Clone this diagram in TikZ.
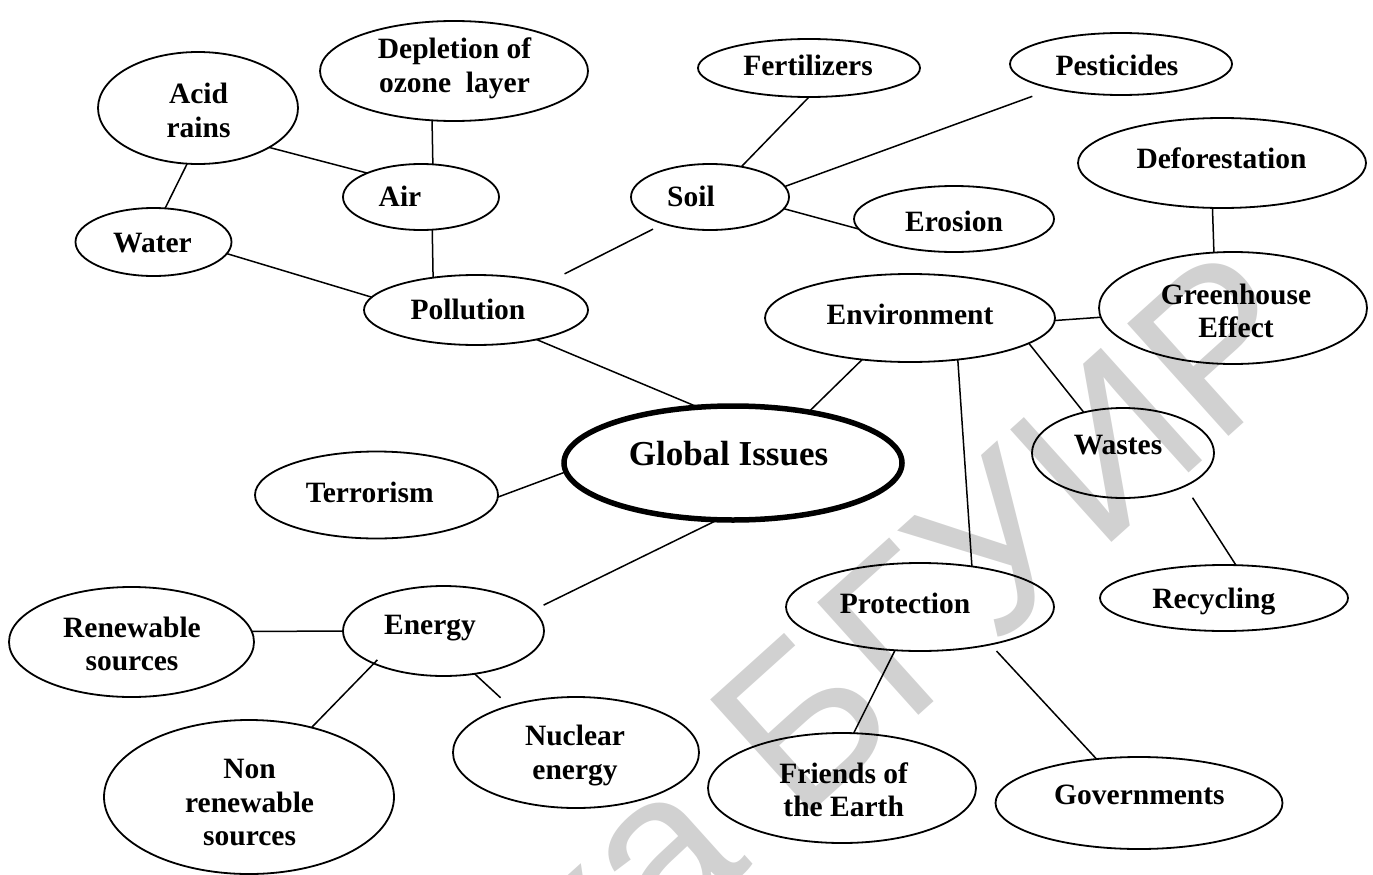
\documentclass[tikz,border=0pt]{standalone}
\usepackage{fontspec}
\setmainfont{Liberation Serif}
\newfontfamily\wmfont{Liberation Sans}
\usetikzlibrary{shapes.geometric}

% an unfilled ellipse and its label: name, centre x, centre y, width, height, label x, label y, label
\newcommand\bubble[8]{%
  \node[bub, minimum width=#4, minimum height=#5] (#1) at (#2,#3) {};
  \node[lbl] (#1-t) at (#6,#7) {#8};}

\begin{document}
\begin{tikzpicture}[x=1pt, y=-1pt,
  bub/.style={draw, ellipse, line width=1.8pt, inner sep=0pt, outer sep=0pt},
  lbl/.style={font=\bfseries\fontsize{29.5}{33.7}\selectfont, align=center,
              inner sep=0pt, text depth=0pt},
  link/.style={line width=1.5pt},
  wm/.style={font=\wmfont\fontsize{220}{220}\selectfont, text=black!18, inner sep=0pt}]

\useasboundingbox (0,0) rectangle (1373,875);

% library stamp in the background
\begin{scope}
  \clip (0,0) rectangle (1373,875);
  \node[wm, rotate=42, anchor=base east] (stamp) at (1325,350) {Библиотека БГУИР};
\end{scope}

% central topic
\node[bub, line width=5.5pt, minimum width=338, minimum height=114] (glob) at (733,463) {};
\node[lbl, font=\bfseries\fontsize{35}{40}\selectfont] (glob-t) at (728.5,453.8) {Global Issues};

% pollution branch
\bubble{dep}{454}{71}{268}{100}{454.5}{65}{Depletion of\\ozone\ \ layer}
\bubble{acid}{198}{108}{200}{112}{198.6}{110}{Acid\\rains}
\bubble{air}{421}{197}{156}{66}{400}{196.7}{Air}
\bubble{water}{153.5}{242}{156}{68}{152.5}{242.5}{Water}
\bubble{poll}{476}{310}{224}{70}{468}{308.8}{Pollution}
\bubble{soil}{710}{197}{158}{66}{691}{196.7}{Soil}
\bubble{fert}{809}{68}{222}{58}{808}{65}{Fertilizers}
\bubble{pest}{1121}{64}{222}{62}{1117}{65}{Pesticides}
\bubble{eros}{954}{219}{200}{66}{954}{220.8}{Erosion}

% environment branch
\bubble{env}{910}{318}{290}{88}{910}{313.8}{Environment}
\bubble{defo}{1222}{163}{288}{90}{1221.5}{158.3}{Deforestation}
\bubble{green}{1233}{308}{268}{112}{1236}{310.8}{Greenhouse\\Effect}
\bubble{wastes}{1123}{453}{182}{90}{1118}{445}{Wastes}
\bubble{recyc}{1224}{598}{248}{66}{1213.8}{598.3}{Recycling}
\bubble{prot}{920}{607}{268}{88}{905}{603}{Protection}
\bubble{friends}{842}{788}{268}{110}{843.7}{789.5}{Friends of\\the Earth}
\bubble{gov}{1139}{803}{287}{92}{1139.4}{794.5}{Governments}

% terrorism and energy
\bubble{terr}{376.5}{495}{243}{87}{369.7}{491.8}{Terrorism}
\bubble{energy}{443.5}{631}{201}{90}{430}{624.5}{Energy}
\bubble{renew}{131.5}{642}{245}{110}{132}{643.8}{Renewable\\sources}
\bubble{nonren}{249}{797}{290}{154}{249.6}{802.5}{Non\\renewable\\sources}
\bubble{nucl}{576}{752.5}{246}{111}{575}{752.5}{Nuclear\\energy}

% connectors
\draw[link] (acid.331.6) -- (air.156.9);
\draw[link] (acid.259.4) -- (water.71);
\draw[link] (dep.246.5) -- (air.70.6);
\draw[link] (air.289.4) -- (poll.143.45);
\draw[link] (water.351.8) -- (poll.173.4);
\draw[link, shorten <=20pt, shorten >=12pt] (poll.21.5) -- (soil.210.6);
\draw[link] (soil.44.1) -- (fert.270);
\draw[link, shorten >=22.5pt] (soil.8.3) -- (pest.200.5);
\draw[link] (soil.351.7) -- (eros.186.9);
\draw[link] (poll.334.2) -- (glob.122.3);
\draw[link] (glob.34.4) -- (env.221.2);
\draw[link] (env.359.4) -- (green.184.9);
\draw[link] (defo.258.7) -- (green.109.9);
\draw[link] (env.348.7) -- (wastes.134.5);
\draw[link] (env.319.8) -- (prot.38.1);
\draw[link, shorten <=14pt] (wastes.332) -- (recyc.70.5);
\draw[link] (glob.183.5) -- (terr.359.5);
\draw[link, shorten >=12pt] (glob.255.6) -- (energy.13);
\draw[link] (energy.180) -- (renew.5.1);
\draw[link, shorten <=-5pt] (energy.205.3) -- (nonren.48.7);
\draw[link, shorten >=12pt] (energy.306.4) -- (nucl.145.9);
\draw[link] (prot.240.5) -- (friends.78.1);
\draw[link, shorten <=9pt] (prot.332.2) -- (gov.134.1);
\end{tikzpicture}
\end{document}
